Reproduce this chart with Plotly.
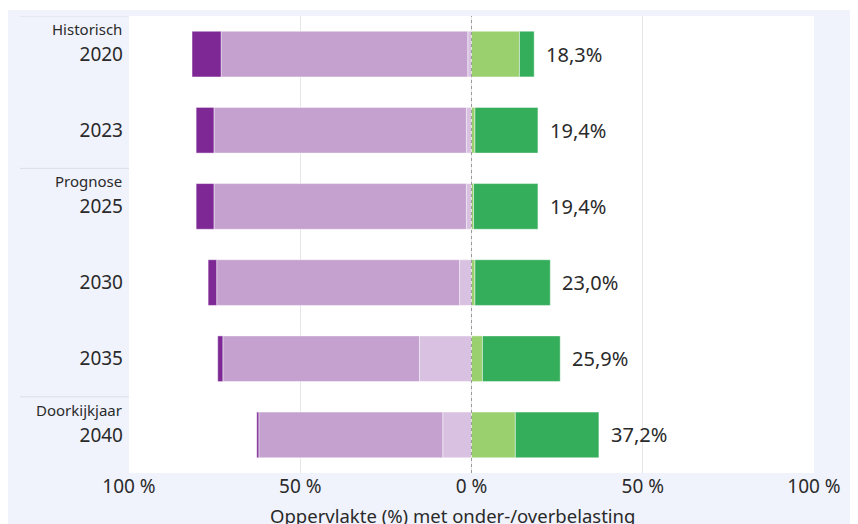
import plotly.graph_objects as go

years = ["2020", "2023", "2025", "2030", "2035", "2040"]
group_labels = ["Historisch", "", "Prognose", "", "", "Doorkijkjaar"]

# share of surface (%) - underload (left) and overload (right)
under_strong = [8.5, 5.2, 5.2, 2.5, 1.5, 0.6]
under_mid = [72.0, 73.7, 73.7, 70.9, 57.4, 53.7]
under_light = [1.1, 1.5, 1.5, 3.5, 15.2, 8.4]
over_light = [14.0, 1.0, 0.6, 1.0, 3.2, 12.8]
over_strong = [4.3, 18.4, 18.8, 22.0, 22.7, 24.4]
over_total_labels = [18.3, 19.4, 19.4, 23.0, 25.9, 37.2]

x_tickvals = [-100, -50, 0, 50, 100]
x_ticktext = ["100 %", "50 %", "0 %", "50 %", "100 %"]
x_title = "Oppervlakte (%) met onder-/overbelasting"

FONT = "Noto Sans"
TXT = "#2a2a2a"
outline = dict(color="rgba(255,255,255,0.45)", width=1)

fig = go.Figure()
series = [
    ("under_light", [-v for v in under_light], "#D9C1E1"),
    ("under_mid", [-v for v in under_mid], "#C5A1CF"),
    ("under_strong", [-v for v in under_strong], "#7E2896"),
    ("over_light", over_light, "#9BD06F"),
    ("over_strong", over_strong, "#35AE5B"),
]
for name, vals, col in series:
    fig.add_trace(go.Bar(
        y=years, x=vals, orientation="h", name=name,
        marker=dict(color=col, line=outline), showlegend=False,
        hoverinfo="skip",
    ))

annotations = []
for i, (a, b, lab) in enumerate(zip(over_light, over_strong, over_total_labels)):
    annotations.append(dict(
        x=a + b, y=i, xref="x", yref="y", xanchor="left", yanchor="middle",
        xshift=10, showarrow=False,
        text=f"{lab:.1f}%".replace(".", ","),
        font=dict(family=FONT, size=20, color=TXT),
    ))
for i, g in enumerate(group_labels):
    if g:
        annotations.append(dict(
            x=0, y=i, xref="paper", yref="y", xanchor="right", yanchor="middle",
            xshift=-5, yshift=25, showarrow=False, text=g,
            font=dict(family=FONT, size=15, color=TXT),
        ))

# figure sits 8px from the page's top-left corner (body margin)
W, H = 850, 524
ml, mr, mt, mb = 121, 44, 8, 59
pw, ph = W - ml - mr, H - mt - mb


def px_x(p):
    return (p - ml) / pw


def px_y(p):
    return (H - mb - p) / ph


annotations.append(dict(
    x=px_x(444), y=px_y(508), xref="paper", yref="paper", xanchor="center",
    yanchor="middle", showarrow=False, text=x_title,
    font=dict(family=FONT, size=18.5, color=TXT),
))

shapes = [
    dict(type="rect", xref="paper", yref="paper", x0=px_x(0), x1=px_x(W),
         y0=px_y(2), y1=px_y(0), fillcolor="white", line=dict(width=0), layer="below"),
    # dotted zero line
    dict(type="line", xref="x", yref="paper", x0=0, x1=0, y0=0, y1=1,
         line=dict(color="#9a9a9a", width=1, dash="dot"), layer="above"),
]
# group separator lines in the label column
for yb in [-0.5, 1.5, 4.5]:
    shapes.append(dict(type="line", xref="paper", yref="y", x0=px_x(12), x1=0,
                       y0=yb, y1=yb, line=dict(color="#DADEE8", width=1)))

fig.update_layout(
    width=W, height=H,
    margin=dict(l=ml, r=mr, t=mt, b=mb),
    barmode="relative", bargap=0.4,
    paper_bgcolor="#F0F3FC", plot_bgcolor="white",
    font=dict(family=FONT, color=TXT),
    annotations=annotations, shapes=shapes,
    xaxis=dict(range=[-100, 100], tickvals=x_tickvals, ticktext=x_ticktext,
               showgrid=True, gridcolor="#E6E6EA", gridwidth=1, zeroline=False,
               tickfont=dict(family=FONT, size=19, color=TXT), fixedrange=True,
               showline=False),
    yaxis=dict(categoryorder="array", categoryarray=years, range=[5.5, -0.5],
               showgrid=False, zeroline=False, ticklabelstandoff=5,
               tickfont=dict(family=FONT, size=19, color=TXT)),
)

fig.write_html("out.html")
